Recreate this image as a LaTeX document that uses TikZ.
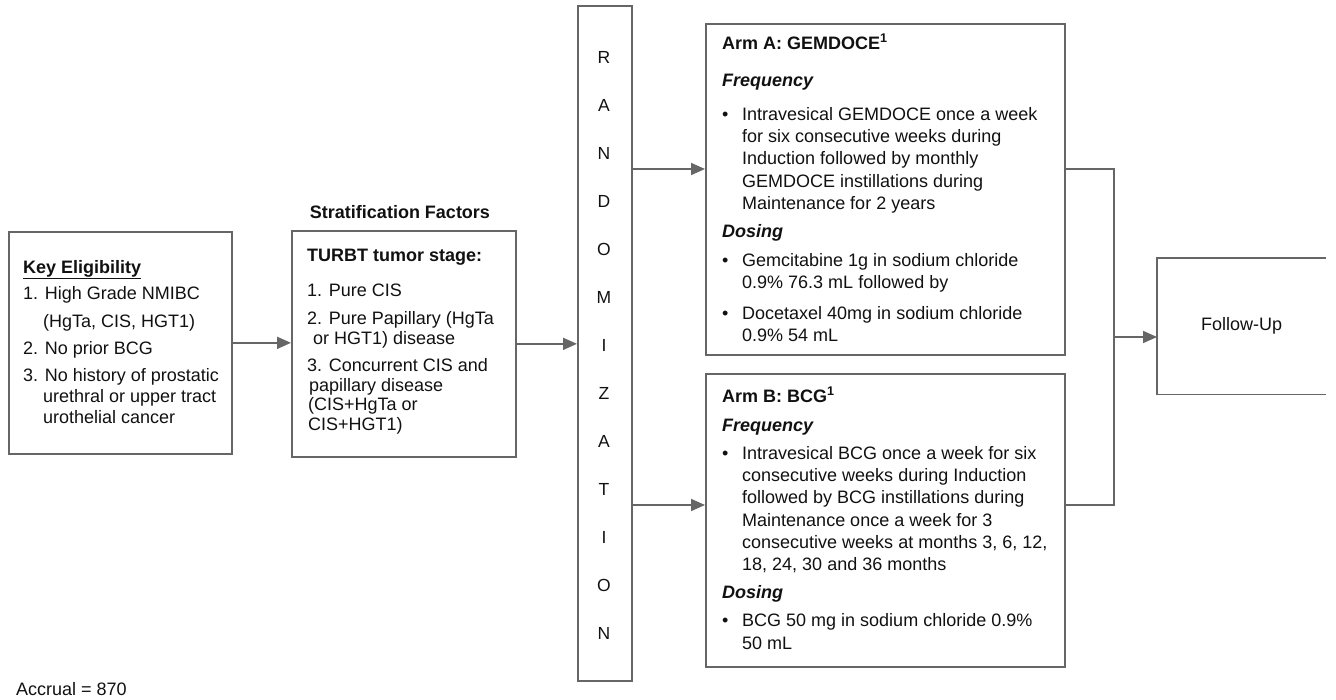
\documentclass[tikz,border=0pt]{standalone}
\usepackage{fontspec}
\setmainfont{Liberation Sans}
\usetikzlibrary{arrows.meta,calc}
\definecolor{ln}{HTML}{666666}
\definecolor{tx}{HTML}{111111}
\newcommand\firstst{\rule{0pt}{16pt}}
\newcommand\blt{\makebox[20pt][l]{\textbullet}}
\newcommand\hng{\hspace*{20pt}}
\begin{document}
\begin{tikzpicture}[x=1pt,y=-1pt,
  box/.style={draw=ln,line width=1.7pt,inner sep=0pt,anchor=north west},
  txt/.style={inner sep=0pt,anchor=north west,align=left,text=tx},
  arr/.style={draw=ln,line width=1.7pt,-{Triangle[length=14pt,width=12pt]}},
  con/.style={draw=ln,line width=1.7pt}]
\useasboundingbox (0,0) rectangle (1336,700);

% boxes
\node[box,minimum width=223pt,minimum height=222pt] (key) at (8,231) {};
\node[box,minimum width=224pt,minimum height=226pt] (strat) at (291,230) {};
\node[box,minimum width=54pt,minimum height=675pt] (rand) at (577,5) {};
\node[box,minimum width=359pt,minimum height=331pt] (armA) at (705,23) {};
\node[box,minimum width=359pt,minimum height=293pt] (armB) at (705,373) {};
\node[inner sep=0pt,anchor=north west,minimum width=169pt,minimum height=136pt,
      text=tx,font=\fontsize{18}{22}\selectfont] (follow) at (1157,258) {Follow-Up};
\draw[con] (follow.north east) -- (follow.north west) -- (follow.south west) -- (follow.south east);

% texts
\node[txt,font=\fontsize{18}{21}\selectfont] (keyt) at (23,257) {%
\firstst\textbf{\underline{Key Eligibility}}\\[5pt]
1. High Grade NMIBC\\[7pt]
\hng(HgTa, CIS, HGT1)\\[6pt]
2. No prior BCG\\[6pt]
3. No history of prostatic\\
\hng urethral or upper tract\\
\hng urothelial cancer};

\node[anchor=base,inner sep=0pt,text=tx,font=\fontsize{18}{22}\selectfont\bfseries] (stitle) at (400,219) {Stratification Factors};

\node[txt,font=\fontsize{18}{20}\selectfont] (stratt) at (307,245) {%
\firstst\textbf{TURBT tumor stage:}\\[15pt]
1. Pure CIS\\[8pt]
2. Pure Papillary (HgTa\\
\hspace*{6pt}or HGT1) disease\\[7pt]
3. Concurrent CIS and\\
\hspace*{2pt}papillary disease\\[-1pt]
\hspace*{1pt}(CIS+HgTa or\\
\hspace*{1pt}CIS+HGT1)};

\node[inner sep=0pt,anchor=north,align=center,text=tx,font=\fontsize{17.5}{48}\selectfont] (randt) at (604,49) {%
\rule{0pt}{14pt}R\\A\\N\\D\\O\\M\\I\\Z\\A\\T\\I\\O\\N};

\node[txt,font=\fontsize{18}{22.3}\selectfont] (armAt) at (722,33) {%
\firstst\textbf{Arm A: GEMDOCE\textsuperscript{1}}\\[14.7pt]
\textbf{\textit{Frequency}}\\[11.7pt]
\blt Intravesical GEMDOCE once a week\\
\hng for six consecutive weeks during\\
\hng Induction followed by monthly\\
\hng GEMDOCE instillations during\\
\hng Maintenance for 2 years\\[5.7pt]
\textbf{\textit{Dosing}}\\[6.7pt]
\blt Gemcitabine 1g in sodium chloride\\
\hng 0.9\% 76.3 mL followed by\\[8.7pt]
\blt Docetaxel 40mg in sodium chloride\\
\hng 0.9\% 54 mL};

\node[txt,font=\fontsize{18}{22.3}\selectfont] (armBt) at (722,386) {%
\firstst\textbf{Arm B: BCG\textsuperscript{1}}\\[6.7pt]
\textbf{\textit{Frequency}}\\[5.7pt]
\blt Intravesical BCG once a week for six\\
\hng consecutive weeks during Induction\\
\hng followed by BCG instillations during\\
\hng Maintenance once a week for 3\\
\hng consecutive weeks at months 3, 6, 12,\\
\hng 18, 24, 30 and 36 months\\[5.7pt]
\textbf{\textit{Dosing}}\\[5.7pt]
\blt BCG 50 mg in sodium chloride 0.9\%\\
\hng 50 mL};

\node[anchor=base west,inner sep=0pt,text=tx,font=\fontsize{18}{22}\selectfont] (accrual) at (16,695) {Accrual = 870};

% connectors
\coordinate (ra) at (0,169);
\coordinate (rb) at (0,505);
\coordinate (jt) at (1114,169);
\coordinate (jb) at (1114,505);
\coordinate (jm) at (1114,337);
\draw[arr] (key.east) -- (key.east -| strat.west);
\draw[arr] (strat.east) -- (strat.east -| rand.west);
\draw[arr] (rand.east |- ra) -- (armA.west |- ra);
\draw[arr] (rand.east |- rb) -- (armB.west |- rb);
\draw[con] (armA.east |- jt) -- (jt) -- (jb) -- (armB.east |- jb);
\draw[arr] (jm) -- (jm -| follow.west);
\end{tikzpicture}
\end{document}
